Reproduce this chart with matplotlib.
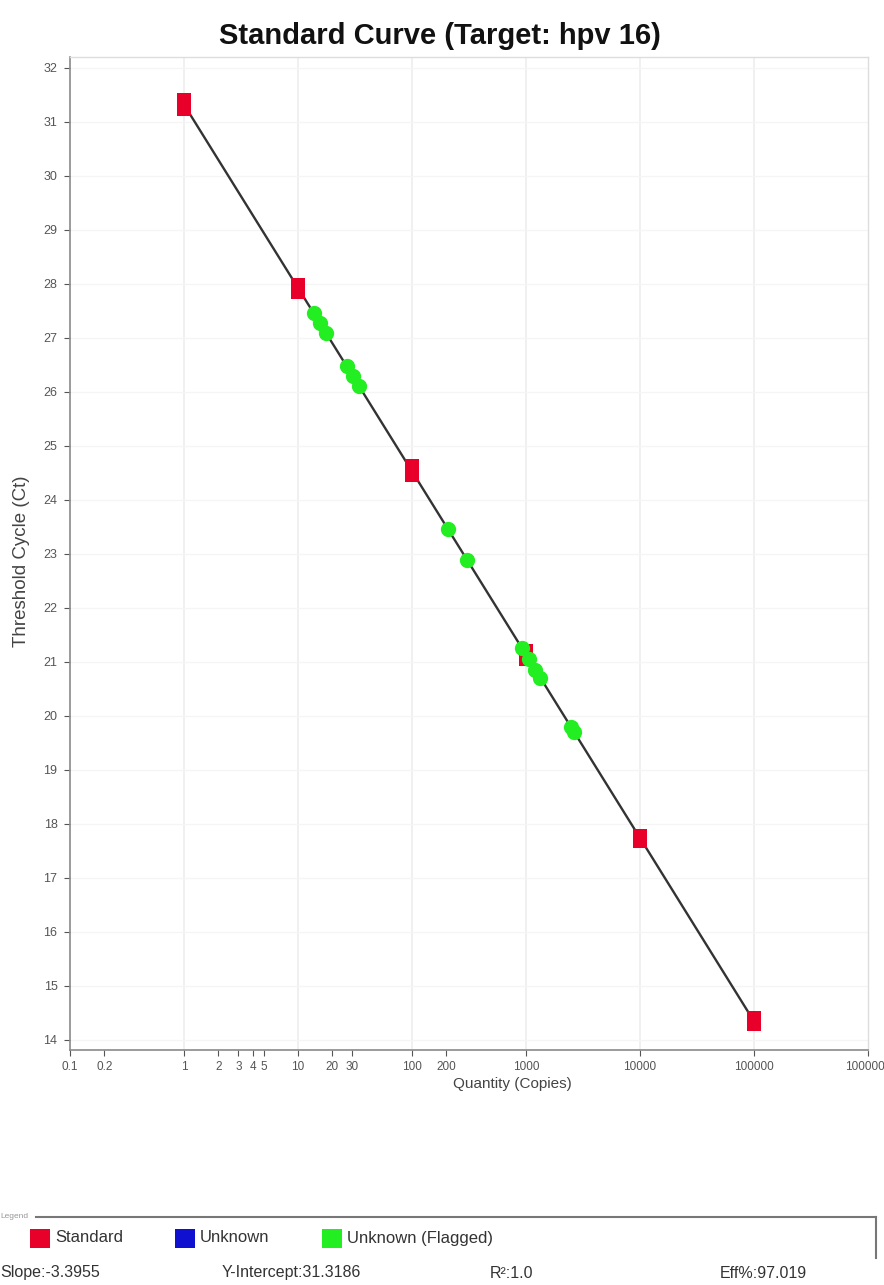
import matplotlib
matplotlib.use("Agg")
import matplotlib.pyplot as plt
import numpy as np
from matplotlib.lines import Line2D
from matplotlib.patches import Rectangle

plt.rcParams['font.family'] = ['Liberation Sans', 'DejaVu Sans']

# ---- data ----
std_qty = [1, 1, 10, 10, 100, 100, 1000, 1000, 10000, 10000, 100000, 100000]
std_ct = [31.40, 31.24, 27.98, 27.84, 24.62, 24.46, 21.20, 21.06, 17.78, 17.68, 14.40, 14.30]

unk_qty = [13.7, 15.6, 17.6, 26.8, 30.3, 34.4, 208, 306, 920, 1060, 1210, 1340, 2470, 2640]
unk_ct = [27.46, 27.27, 27.09, 26.47, 26.29, 26.10, 23.45, 22.88, 21.25, 21.05, 20.85, 20.70, 19.80, 19.70]

slope = -3.3955
intercept = 31.3186
fit_qty = [1, 100000]

x_ticks = [0.1, 0.2, 1, 2, 3, 4, 5, 10, 20, 30, 100, 200, 1000, 10000, 100000, 1000000]
x_labels = ["0.1", "0.2", "1", "2", "3", "4", "5", "10", "20", "30", "100", "200",
            "1000", "10000", "100000", "1000000"]
y_ticks = list(range(14, 33))

W, H = 884, 1285
fig = plt.figure(figsize=(W / 100, H / 100), dpi=100)
fig.patch.set_facecolor('white')

ax = fig.add_axes([70 / W, 1 - 1050 / H, 798 / W, 993 / H])
ax.set_xscale('log')
ax.set_xlim(0.1, 1e6)
ax.set_ylim(13.81, 32.2)

# faint grid
for d in [1, 10, 100, 1000, 10000, 100000]:
    ax.axvline(d, color='#ededed', lw=1.2, zorder=0)
for yv in y_ticks:
    ax.axhline(yv, color='#f5f5f5', lw=1.0, zorder=0)

fit_ct = [intercept + slope * np.log10(q) for q in fit_qty]
ax.plot(fit_qty, fit_ct, color='#333333', lw=1.7, zorder=2)

ax.plot(std_qty, std_ct, 's', color='#e8002a', markersize=9.5, markeredgewidth=0, zorder=3)
ax.plot(unk_qty, unk_ct, 'o', color='#22ee22', markersize=11, markeredgewidth=0, zorder=4)

ax.set_xticks(x_ticks)
ax.set_xticklabels(x_labels)
ax.xaxis.set_minor_locator(matplotlib.ticker.NullLocator())
ax.set_yticks(y_ticks)
ax.set_yticklabels([str(v) for v in y_ticks])
ax.tick_params(axis='both', colors='#555555', length=4, width=0.8)
ax.tick_params(axis='x', labelsize=8.5, pad=4)
ax.tick_params(axis='y', labelsize=9, pad=5)

for s in ['left', 'bottom']:
    ax.spines[s].set_color('#8a8a8a')
    ax.spines[s].set_linewidth(1.2)
for s in ['top', 'right']:
    ax.spines[s].set_color('#dddddd')
    ax.spines[s].set_linewidth(1.0)

# title and axis labels
fig.text(440 / W, 1 - 36 / H, "Standard Curve (Target: hpv 16)", ha='center', va='center',
         fontsize=21, fontweight='bold', color='#111111')
fig.text(22 / W, 1 - 561 / H, "Threshold Cycle (Ct)", rotation=90, ha='center', va='center',
         fontsize=13.5, color='#444444')
fig.text(512 / W, 1 - 1084 / H, "Quantity (Copies)", ha='center', va='center',
         fontsize=11, color='#444444')

# legend frame
fig.add_artist(Line2D([36 / W, 876 / W], [1 - 1217 / H, 1 - 1217 / H], color='#777777', lw=1.5))
fig.add_artist(Line2D([876 / W, 876 / W], [1 - 1217 / H, 1 - 1258 / H], color='#777777', lw=1.5))
fig.text(0 / W, 1 - 1217 / H, "Legend", ha='left', va='center', fontsize=6, color='#999999')

leg_items = [("Standard", '#e8002a', 30), ("Unknown", '#1010d0', 175), ("Unknown (Flagged)", '#22ee22', 322)]
for name, col, x0 in leg_items:
    fig.add_artist(Rectangle((x0 / W, 1 - 1248 / H), 20 / W, 19 / H, facecolor=col,
                             edgecolor='none', transform=fig.transFigure))
    fig.text((x0 + 25) / W, 1 - 1238 / H, name, ha='left', va='center', fontsize=12, color='#333333')

# statistics row
stats = [("Slope:-3.3955", 0), ("Y-Intercept:31.3186", 222), ("R²:1.0", 490), ("Eff%:97.019", 720)]
for txt, x0 in stats:
    fig.text(x0 / W, 1 - 1273 / H, txt, ha='left', va='center', fontsize=11.5, color='#333333')

fig.savefig("out.png", dpi=100)
